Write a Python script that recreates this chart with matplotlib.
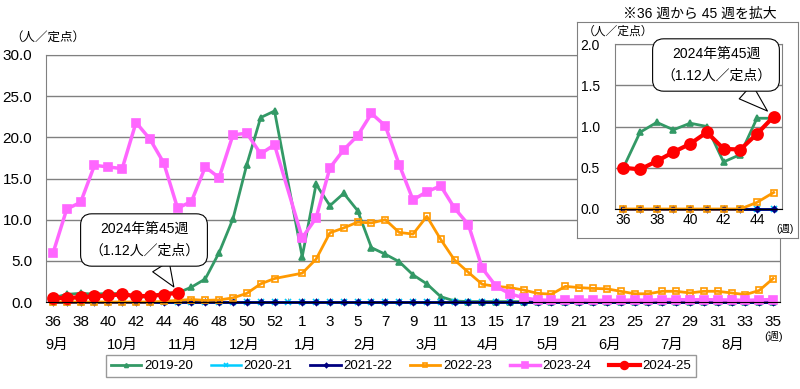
import numpy as np
import matplotlib
matplotlib.use("Agg")
import matplotlib.pyplot as plt
from matplotlib.transforms import blended_transform_factory

plt.rcParams['font.family'] = ['Liberation Sans', 'Noto Sans CJK JP', 'DejaVu Sans']

# weeks 36..53, 1..35 (53 categories)
weeks = list(range(36, 54)) + list(range(1, 36))
N = None

s2019 = [0.5, 0.93, 1.05, 0.96, 1.04, 1.0, 0.57, 0.66, 1.1, 1.1,
         1.8, 2.8, 6.0, 10.1, 16.7, 22.4, 23.2, N,
         5.5, 14.3, 11.7, 13.2, 11.1, 6.6, 5.8, 4.9, 3.3, 2.2, 0.65, 0.12,
         0.05, 0.05, 0.05, 0.05, 0.05, 0.05, 0.05, 0.05, 0.05, 0.05, 0.05,
         0.05, 0.05, 0.05, 0.05, 0.05, 0.05, 0.05, 0.05, 0.05, 0.05, 0.05, 0.05]
s2020 = [0.0] * 53
s2021 = [0.0] * 17 + [N] + [0.0] * 35
s2022 = [0.0, 0.0, 0.0, 0.0, 0.0, 0.0, 0.0, 0.0, 0.08, 0.2,
         0.3, 0.2, 0.25, 0.5, 1.05, 2.2, 2.85, N,
         3.5, 5.2, 8.4, 9.0, 9.7, 9.6, 10.0, 8.45, 8.25, 10.4, 7.6, 5.1,
         3.6, 2.15, 1.9, 1.75, 1.45, 1.05, 0.95, 1.9, 1.75, 1.65, 1.6,
         1.3, 1.0, 1.0, 1.3, 1.3, 1.1, 1.3, 1.3, 1.1, 0.9, 1.4, 2.85]
s2023 = [5.9, 11.3, 12.1, 16.6, 16.4, 16.2, 21.8, 19.8, 16.9, 11.4,
         12.2, 16.4, 15.1, 20.3, 20.5, 18.0, 19.1, N,
         7.8, 10.2, 16.3, 18.5, 20.2, 22.9, 21.4, 16.7, 12.4, 13.4, 14.1, 11.4,
         9.4, 4.1, 1.9, 1.0, 0.5, 0.25, 0.2, 0.2, 0.25, 0.2, 0.2,
         0.2, 0.25, 0.2, 0.3, 0.3, 0.25, 0.3, 0.25, 0.25, 0.2, 0.25, 0.3]
s2024 = [0.50, 0.48, 0.58, 0.69, 0.79, 0.93, 0.73, 0.72, 0.91, 1.12]

series = [
    ("2019-20", s2019, "#339966", "^", 4, 2.0, "#339966"),
    ("2020-21", s2020, "#00CCFF", "x", 4, 1.8, "#00CCFF"),
    ("2021-22", s2021, "#000080", "D", 3, 2.0, "#000080"),
    ("2022-23", s2022, "#FF9900", "s", 5, 2.0, "none"),
    ("2023-24", s2023, "#FF66FF", "s", 6, 2.5, "#FF66FF"),
    ("2024-25", s2024, "#FF0000", "o", 8, 3.0, "#FF0000"),
]

month_labels = ["9月", "10月", "11月", "12月", "1月", "2月", "3月", "4月",
                "5月", "6月", "7月", "8月"]
month_pos = [0.3, 5.0, 9.4, 13.8, 18.2, 22.5, 27.0, 31.4, 35.7, 40.2, 44.7, 49.1]

W, H = 800, 389
fig = plt.figure(figsize=(W / 100, H / 100), dpi=100)

def px(x0, y0, x1, y1):
    return [x0 / W, 1 - y1 / H, (x1 - x0) / W, (y1 - y0) / H]

grid_c = "#808080"

# main chart
ax = fig.add_axes(px(46, 55, 780, 302))
idx = np.arange(len(weeks))
handles = []
for name, vals, col, mk, ms, lw, mfc in series:
    v = np.array([np.nan if a is None else a for a in vals], dtype=float)
    x = idx[:len(v)]
    ok = ~np.isnan(v)
    h, = ax.plot(x[ok], v[ok], color=col, marker=mk, ms=ms, lw=lw,
                 mfc=mfc, mec=col, mew=1.2, label=name, clip_on=False)
    handles.append(h)

ax.set_xlim(-0.5, 52.5)
ax.set_ylim(0, 30)
ax.set_yticks(np.arange(0, 31, 5))
ax.set_yticklabels([f"{t:.1f}" for t in np.arange(0, 31, 5)], fontsize=11)
ax.grid(axis='y', color=grid_c, lw=1)
ax.set_axisbelow(True)
ax.set_xticks(idx[::2])
ax.set_xticklabels([str(weeks[i]) for i in idx[::2]], fontsize=11)
ax.set_xticks(idx, minor=True)
ax.tick_params(axis='x', which='major', length=3, direction='in', pad=9, color=grid_c)
ax.tick_params(axis='x', which='minor', length=3, direction='in', color=grid_c)
ax.tick_params(axis='y', length=0, pad=10)
for sp in ax.spines.values():
    sp.set_color(grid_c)
ax.spines['bottom'].set_color('black')

tr = blended_transform_factory(ax.transData, ax.transAxes)
for m, p in zip(month_labels, month_pos):
    ax.text(p, -0.172, m, transform=tr, ha='center', va='center', fontsize=10.5)
ax.text(52, -0.14, "(週)", transform=tr, ha='center', va='center', fontsize=8)
fig.text(10 / W, 1 - 38 / H, "（人／定点）", fontsize=9, va='center', ha='left')

ax.annotate("2024年第45週\n（1.12人／定点）", xy=(9, 1.12), xytext=(144, H - 240),
            textcoords='figure pixels', ha='center', va='center', fontsize=10,
            linespacing=1.7,
            bbox=dict(boxstyle='round,pad=0.6,rounding_size=0.8', fc='white', ec='black', lw=0.8),
            arrowprops=dict(arrowstyle='wedge,tail_width=1.4,shrink_factor=0.5',
                            fc='white', ec='black', lw=0.8, shrinkA=0, shrinkB=5))

# inset
box = fig.add_axes(px(577, 22, 798, 238))
box.set_xticks([])
box.set_yticks([])
for sp in box.spines.values():
    sp.set_color(grid_c)
box.set_zorder(2)

ins = fig.add_axes(px(615, 44, 782, 209))
ins.set_zorder(3)
for name, vals, col, mk, ms, lw, mfc in series:
    v = np.array([np.nan if a is None else a for a in vals[:10]], dtype=float)
    ins.plot(np.arange(10), v, color=col, marker=mk, ms=ms, lw=lw,
             mfc=mfc, mec=col, mew=1.2, clip_on=False)
ins.set_xlim(-0.5, 9.5)
ins.set_ylim(0, 2)
ins.set_yticks(np.arange(0, 2.01, 0.5))
ins.set_yticklabels([f"{t:.1f}" for t in np.arange(0, 2.01, 0.5)], fontsize=10)
ins.set_xticks(np.arange(0, 10, 2))
ins.set_xticklabels([str(w) for w in range(36, 46, 2)], fontsize=10)
ins.set_xticks(np.arange(10), minor=True)
ins.tick_params(axis='x', which='both', length=3, direction='in', pad=3, color=grid_c)
ins.tick_params(axis='y', length=0, pad=11)
ins.grid(axis='y', color=grid_c, lw=1)
ins.set_axisbelow(True)
for sp in ins.spines.values():
    sp.set_color(grid_c)
ins.spines['bottom'].set_color('black')

fig.text(700 / W, 1 - 14 / H, "※36 週から 45 週を拡大", ha='center', va='center', fontsize=10)
fig.text(583 / W, 1 - 32 / H, "（人／定点）", ha='left', va='center', fontsize=8.5, zorder=5)
fig.text(785 / W, 1 - 229 / H, "(週)", ha='center', va='center', fontsize=7.5, zorder=5)

ins.annotate("2024年第45週\n（1.12人／定点）", xy=(9, 1.12), xytext=(716, H - 65),
             textcoords='figure pixels', ha='center', va='center', fontsize=10,
             linespacing=1.7,
             bbox=dict(boxstyle='round,pad=0.6,rounding_size=0.8', fc='white', ec='black', lw=0.8),
             arrowprops=dict(arrowstyle='wedge,tail_width=1.4,shrink_factor=0.5',
                             fc='white', ec='black', lw=0.8, shrinkA=0, shrinkB=6))

fig.legend(handles=handles, loc='center', bbox_to_anchor=(401 / W, 1 - 366 / H),
           ncol=6, fontsize=9.5, frameon=True, fancybox=False, edgecolor=grid_c,
           handlelength=2.3, handletextpad=0.2, columnspacing=1.35,
           borderpad=0.35, markerscale=0.7)

fig.savefig("out.png", dpi=100)
